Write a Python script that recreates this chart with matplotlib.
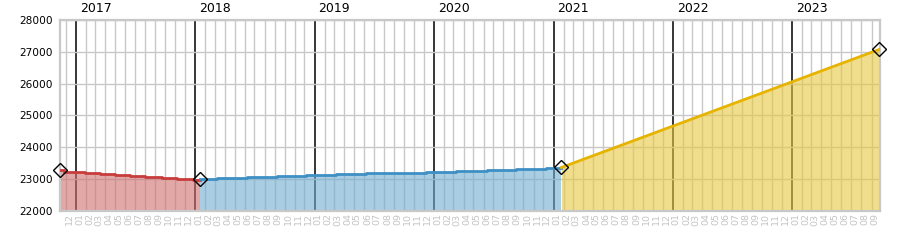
import matplotlib
matplotlib.use("Agg")
import matplotlib.pyplot as plt
import matplotlib.dates as mdates
import matplotlib.transforms as mtransforms
import numpy as np
import datetime as dt

# ---- data ----
red_dates = ["2016-11-13", "2016-11-26", "2017-01-28", "2017-03-15", "2017-04-30",
             "2017-06-15", "2017-07-31", "2017-09-20", "2017-11-05", "2017-12-26",
             "2018-01-15"]
red_values = [23290, 23230, 23190, 23155, 23123, 23091, 23060, 23028, 22997, 22975, 22975]

blue_dates = ["2018-01-15", "2018-03-07", "2018-06-07", "2018-09-07", "2018-12-07",
              "2019-03-09", "2019-06-08", "2019-09-08", "2019-12-09", "2020-03-10",
              "2020-06-10", "2020-09-09", "2020-12-10", "2021-01-25"]
blue_values = [22987, 23019, 23050, 23082, 23113, 23145, 23176, 23195, 23226, 23258,
               23289, 23321, 23355, 23355]

yellow_dates = ["2021-01-25", "2023-09-25"]
yellow_values = [23360, 27075]

marker_dates = ["2016-11-13", "2018-01-15", "2021-01-25", "2023-09-25"]
marker_values = [23290, 22985, 23360, 27075]

years = [2017, 2018, 2019, 2020, 2021, 2022, 2023]
y_ticks = [22000, 23000, 24000, 25000, 26000, 27000, 28000]
x_range = ["2016-11-13", "2023-09-27"]


def d(lst):
    return [dt.datetime.strptime(s, "%Y-%m-%d") for s in lst]


fig = plt.figure(figsize=(9, 2.5), dpi=100)
ax = fig.add_axes([60 / 900, 1 - 210.7 / 250, 820 / 900, (210.7 - 20) / 250])

ax.set_xlim(d(x_range))
ax.set_ylim(y_ticks[0], y_ticks[-1])

# grid
grid_gray = "#c8c8c8"
ax.xaxis.set_major_locator(mdates.YearLocator())
ax.xaxis.set_minor_locator(mdates.MonthLocator())
ax.xaxis.set_major_formatter(mdates.DateFormatter("%m"))
ax.xaxis.set_minor_formatter(mdates.DateFormatter("%m"))
ax.grid(True, which="minor", axis="x", color=grid_gray, lw=1.0, zorder=0)
ax.grid(True, which="major", axis="x", color="black", lw=1.1, zorder=0.5)
ax.set_yticks(y_ticks)
ax.grid(True, which="major", axis="y", color=grid_gray, lw=1.0, zorder=0)
ax.set_axisbelow(True)

ax.tick_params(axis="both", which="both", length=0)
ax.tick_params(axis="y", labelsize=7.6, colors="black", pad=5)
ax.tick_params(axis="x", which="both", labelsize=6.8, labelcolor="#c4c4c4",
               labelrotation=90, pad=2)
offset = mtransforms.ScaledTranslation(3.5 / 100, 0, fig.dpi_scale_trans)
for lab in ax.get_xticklabels(minor=True) + ax.get_xticklabels(minor=False):
    lab.set_transform(lab.get_transform() + offset)
    lab.set_fontfamily("DejaVu Sans")

for sp in ax.spines.values():
    sp.set_color(grid_gray)
    sp.set_linewidth(1.6)

# series
series = [
    (red_dates, red_values, "#d06e6e", "#c83c3c"),
    (blue_dates, blue_values, "#70acd0", "#3d8fc4"),
    (yellow_dates, yellow_values, "#e8c840", "#e6b400"),
]
for dts, vals, fillc, linec in series:
    x = d(dts)
    if len(x) > 2:
        ax.fill_between(x, vals, y_ticks[0], step="post", color=fillc, alpha=0.6,
                        lw=0, zorder=2)
        ax.step(x, vals, where="post", color=linec, lw=2.0, zorder=3)
    else:
        ax.fill_between(x, vals, y_ticks[0], color=fillc, alpha=0.6, lw=0, zorder=2)
        ax.plot(x, vals, color=linec, lw=2.0, zorder=3)

ax.plot(d(marker_dates), marker_values, ls="none", marker="D", ms=7.2,
        mfc="none", mec="black", mew=1.0, zorder=5, clip_on=False)

# year labels
year_off = mtransforms.ScaledTranslation(4 / 100, 0, fig.dpi_scale_trans)
trans = mtransforms.blended_transform_factory(ax.transData, ax.transAxes) + year_off
for yv in years:
    ax.text(dt.datetime(yv, 1, 1), 1.025, str(yv), transform=trans, ha="left",
            va="bottom", fontsize=9, color="black")

fig.savefig("out.png", dpi=100)
